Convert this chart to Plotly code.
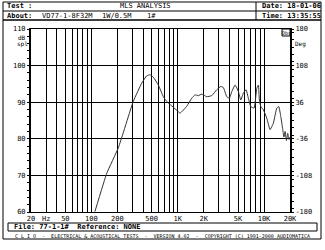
import plotly.graph_objects as go

# ---- data ----
freq_hz = [110, 151, 205, 306, 383, 438, 478, 523, 597, 682, 747, 854, 1018, 1066,
           1274, 1456, 1590, 1737, 1900, 2172, 2483, 2837, 3156, 3382, 3704, 3972,
           4235, 4626, 5050, 5380, 5770, 6198, 6590, 7028, 7678, 8247, 8606, 8834,
           9176, 9836, 10772, 11760, 12840, 14060, 14820, 15640, 16500, 17000, 17540,
           18200, 18800, 19500, 20000]
spl_db = [60.1, 70.6, 77.5, 90.2, 95.2, 97.2, 97.5, 96.8, 94.7, 91.5, 90.2, 89.0, 87.4, 87.0,
          88.9, 91.1, 92.0, 91.8, 92.2, 91.5, 91.8, 93.4, 94.3, 94.0, 91.5, 91.1,
          92.9, 94.7, 92.9, 90.6, 92.5, 93.4, 91.1, 88.8, 88.4, 93.8, 94.7, 90.6,
          88.8, 87.9, 85.6, 82.5, 84.3, 88.4, 88.8, 86.1, 82.5, 80.5, 82.0,
          79.5, 81.5, 79.8, 80.5]

x_tick_vals = [20, 30, 50, 100, 200, 500, 1000, 2000, 5000, 10000, 20000]
x_tick_text = ["20", "Hz", "50", "100", "200", "500", "1K", "2K", "5K", "10K", "20K"]
x_grid_vals = [40, 60, 70, 80, 90, 300, 400, 600, 700, 800, 900,
               3000, 4000, 6000, 7000, 8000, 9000]
y_tick_vals = [60, 70, 80, 90, 100, 110]
y2_tick_vals = [-180, -108, -36, 36, 108, 180]
y2_tick_text = ["-180", "-108", "-36", "36", "108", "180"]

W, H = 325, 250
L, R, T, B = 31, 290, 29, 212

def px(x):
    return (x - L) / (R - L)

def py(y):
    return (B - y) / (B - T)

FONT = "DejaVu Sans Mono"

fig = go.Figure()
fig.add_trace(go.Scatter(x=freq_hz, y=spl_db, mode="lines",
                         line=dict(color="#333333", width=1, shape="spline", smoothing=0.4),
                         showlegend=False, hoverinfo="skip"))
fig.add_trace(go.Scatter(x=[20], y=[0], yaxis="y2", mode="markers",
                         marker=dict(opacity=0), showlegend=False, hoverinfo="skip"))

fig.update_layout(
    width=W, height=H,
    margin=dict(l=L, r=W - R, t=T, b=H - B),
    paper_bgcolor="white", plot_bgcolor="white",
    font=dict(family=FONT, size=7, color="black"),
    xaxis=dict(type="log", range=[1.30103, 4.30103], tickvals=x_tick_vals, ticktext=x_tick_text,
               showgrid=True, gridcolor="black", gridwidth=1,
               showline=True, linecolor="black", linewidth=1, mirror=True,
               ticks="", tickfont=dict(size=7, family=FONT),
               minor=dict(tickvals=x_grid_vals, showgrid=True, gridcolor="black", gridwidth=1, ticks=""),
               zeroline=False, fixedrange=True),
    yaxis=dict(range=[60, 110], tickvals=y_tick_vals, showgrid=True, gridcolor="black", gridwidth=1,
               showline=True, linecolor="black", linewidth=2, ticks="outside", ticklen=2,
               tickcolor="black", tickfont=dict(size=7, family=FONT),
               minor=dict(dtick=2, ticks="outside", ticklen=2, tickcolor="black"),
               zeroline=False, fixedrange=True),
    yaxis2=dict(range=[-180, 180], overlaying="y", side="right", tickvals=y2_tick_vals,
                ticktext=y2_tick_text, showgrid=False, showline=True, linecolor="black",
                linewidth=2, ticks="outside", ticklen=2, tickcolor="black",
                tickfont=dict(size=7, family=FONT),
                minor=dict(dtick=14.4, ticks="outside", ticklen=2, tickcolor="black"),
                zeroline=False, fixedrange=True),
)

shapes = []
def rect(x0, y0, x1, y1, w=1):
    shapes.append(dict(type="rect", xref="paper", yref="paper",
                       x0=px(x0), x1=px(x1), y0=py(y1), y1=py(y0),
                       line=dict(color="black", width=w), fillcolor="rgba(0,0,0,0)", layer="above"))
def hline(x0, x1, y, w=1):
    shapes.append(dict(type="line", xref="paper", yref="paper",
                       x0=px(x0), x1=px(x1), y0=py(y), y1=py(y), line=dict(color="black", width=w)))
def vline(x, y0, y1, w=1):
    shapes.append(dict(type="line", xref="paper", yref="paper",
                       x0=px(x), x1=px(x), y0=py(y0), y1=py(y1), line=dict(color="black", width=w)))

# header
rect(3, 2, 321, 20)
hline(3, 321, 11)
vline(256, 2, 20)
# outer frame
rect(3, 20, 321, 239)
# file box
rect(8, 223, 317, 231)
# Dbs box
rect(282, 29, 290, 36)

fig.update_layout(shapes=shapes)

ann = []
def text(x, y, s, anchor="left", size=7, bold=False):
    ann.append(dict(x=px(x), y=py(y), xref="paper", yref="paper", text=("<b>%s</b>" % s) if bold else s,
                    showarrow=False, xanchor=anchor, yanchor="middle",
                    font=dict(family=FONT, size=size, color="black")))

text(5, 6.5, "Test :", bold=True)
text(145, 6.5, "MLS ANALYSIS", anchor="center")
text(260, 6.5, "Date: 18-01-06", bold=True)
text(5, 15.5, "About:", bold=True)
text(40, 15.5, "VD77-1-8F32M")
text(100, 15.5, "1W/0.5M")
text(145, 15.5, "1#")
text(260, 15.5, "Time: 13:35:55", bold=True)
text(22, 37, "dB", anchor="center", size=6)
text(22, 44, "spl", anchor="center", size=6)
text(286, 32.5, "Dbs", anchor="center", size=5)
text(300, 44, "Deg", anchor="center", size=6)
text(12, 227, "File: 77-1-1#  Reference: NONE", bold=True)
text(162, 235.5, "C L I O  -  ELECTRICAL & ACOUSTICAL TESTS  -  VERSION 4.02  -  COPYRIGHT (C) 1991-2000 AUDIOMATICA",
     anchor="center", size=5)

fig.update_layout(annotations=ann)

fig.write_html("out.html")
